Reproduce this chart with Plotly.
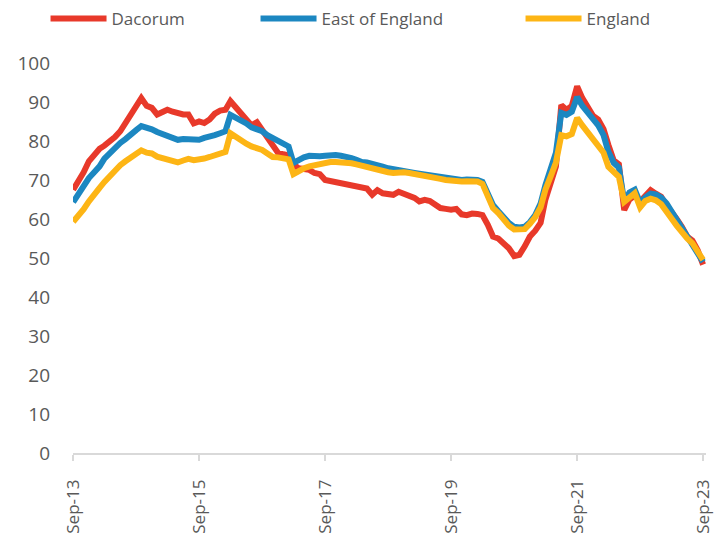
import plotly.graph_objects as go
import pandas as pd

months = pd.date_range("2013-09-01", "2023-09-01", freq="MS")

dacorum = [
    67.5, 69.5, 72.0, 74.8, 76.5, 78.0, 78.8, 79.8, 81.0, 82.5,
    84.5, 87.0, 88.5, 91.0, 89.0, 88.5, 86.8, 87.5, 88.0, 87.5,
    87.0, 86.8, 86.8, 84.5, 85.0, 84.6, 85.5, 87.0, 87.8, 88.0,
    90.2, 88.5, 87.0, 85.5, 84.0, 84.8, 82.8, 81.0, 78.5, 77.0,
    76.6, 76.3, 74.0, 73.0, 72.8, 72.6, 71.8, 71.5, 70.0, 69.7,
    69.5, 69.2, 69.0, 68.3, 68.2, 68.0, 67.8, 66.2, 67.4, 66.6,
    66.2, 66.2, 67.0, 66.6, 66.2, 65.4, 64.5, 64.9, 64.6, 63.8,
    62.8, 62.6, 62.4, 62.6, 61.2, 61.0, 61.4, 61.3, 61.0, 58.5,
    55.5, 55.0, 54.0, 52.5, 50.5, 50.8, 53.0, 55.5, 57.0, 59.0,
    65.0, 70.0, 73.5, 89.2, 88.0, 89.0, 94.0, 91.0, 88.5, 86.5,
    85.5, 83.0, 79.0, 75.0, 74.0, 62.3, 65.0, 66.0, 64.5, 66.0,
    67.4, 66.5, 65.7, 63.5, 61.5, 60.0, 58.0, 55.5, 54.5, 52.0,
    48.3,
]

east_of_england = [
    64.3, 66.5, 68.5, 70.5, 72.0, 73.5, 75.5, 77.0, 78.3, 79.5,
    80.5, 81.8, 82.8, 83.8, 83.5, 83.0, 82.3, 81.8, 81.0, 80.5,
    80.3, 80.5, 80.5, 80.2, 80.3, 80.8, 81.0, 81.5, 82.0, 82.5,
    86.7, 86.0, 85.3, 84.5, 83.5, 83.0, 82.5, 81.5, 80.8, 80.0,
    79.5, 78.6, 74.4, 75.3, 75.8, 76.2, 76.0, 76.1, 76.2, 76.4,
    76.4, 76.2, 76.0, 75.6, 75.2, 74.6, 74.5, 74.0, 73.8, 73.4,
    73.0, 72.8, 72.6, 72.6, 72.2, 71.8, 71.6, 71.4, 71.2, 70.8,
    70.6, 70.4, 70.2, 70.1, 70.0, 70.1, 70.2, 70.0, 69.5, 66.0,
    63.6, 62.0, 60.5, 59.0, 58.0, 57.8, 58.0, 59.2, 61.0, 64.0,
    68.7, 73.0, 77.0, 87.2, 86.7, 87.5, 91.3, 89.0, 87.2, 85.5,
    84.0, 81.5, 77.2, 74.4, 73.2, 64.5, 66.8, 67.5, 64.2, 65.5,
    66.5, 66.3, 65.5, 64.0, 62.0, 60.0, 57.5, 55.5, 53.5, 51.5,
    49.0,
]

england = [
    59.3, 60.8, 62.5, 64.5, 66.5, 68.0, 69.5, 71.0, 72.5, 73.8,
    74.8, 75.6, 76.5, 77.6, 77.0, 76.8, 76.0, 75.6, 75.2, 74.7,
    74.5, 75.0, 75.4, 75.1, 75.2, 75.5, 75.9, 76.3, 76.8, 77.2,
    82.0, 81.0, 80.3, 79.3, 78.6, 78.2, 77.7, 76.8, 75.9, 75.8,
    75.6, 75.3, 71.5, 72.5, 73.0, 73.5, 73.8, 74.0, 74.3, 74.6,
    74.6, 74.6, 74.4, 74.3, 74.0, 73.6, 73.4, 73.2, 72.6, 72.4,
    72.0, 71.8, 72.0, 72.0, 71.8, 71.6, 71.2, 71.0, 70.8, 70.5,
    70.3, 70.0, 69.8, 69.6, 69.6, 69.7, 69.8, 69.6, 69.0, 65.5,
    62.8, 61.5, 59.8, 58.3, 57.3, 57.2, 57.4, 58.8, 60.5, 63.0,
    67.5, 71.0, 74.5, 81.5, 81.2, 81.8, 85.9, 84.0, 82.3, 80.5,
    79.0, 77.0, 73.4, 72.0, 70.8, 64.4, 65.6, 66.6, 63.0, 64.6,
    65.2, 64.8, 63.8, 62.2, 60.2, 58.3, 56.4, 55.0, 53.8, 51.8,
    49.5,
]

series_names = ["Dacorum", "East of England", "England"]
series_values = [dacorum, east_of_england, england]
series_colors = ["#E8392A", "#1C87C1", "#FDB515"]
legend_widths = [139, 194, 70]

tick_dates = pd.date_range("2013-09-01", "2023-09-01", freq="24MS")
tick_labels = ["Sep-13", "Sep-15", "Sep-17", "Sep-19", "Sep-21", "Sep-23"]
y_ticks = list(range(0, 101, 10))

fig = go.Figure()
for name, vals, col, lw in zip(series_names, series_values, series_colors, legend_widths):
    fig.add_trace(go.Scatter(
        x=months, y=vals, name=name, mode="lines",
        line=dict(color=col, width=6),
        legendwidth=lw,
    ))

font_family = "Open Sans, Liberation Sans, sans-serif"
fig.update_layout(
    width=724, height=533,
    margin=dict(l=65, r=26, t=55, b=88, autoexpand=False),
    paper_bgcolor="white", plot_bgcolor="white",
    font=dict(family=font_family, color="#595959", size=18),
    showlegend=True,
    legend=dict(
        orientation="h", x=-0.0434, y=1.113, xanchor="left", yanchor="middle",
        xref="paper", yref="paper",
        font=dict(size=17, color="#595959", family=font_family),
        itemwidth=56, tracegroupgap=0,
        bgcolor="rgba(0,0,0,0)",
    ),
    xaxis=dict(
        type="date",
        range=["2013-08-31", "2023-09-18"],
        tickvals=tick_dates, ticktext=tick_labels,
        tickangle=-90,
        ticks="outside", ticklen=6, tickcolor="#D9D9D9", tickwidth=1.5,
        showline=True, linecolor="#D9D9D9", linewidth=1.5,
        showgrid=False, zeroline=False,
        tickfont=dict(size=17, color="#595959"),
        ticklabelstandoff=12,
        automargin=False,
    ),
    yaxis=dict(
        range=[0, 100], tickvals=y_ticks,
        showgrid=False, zeroline=False, showline=False,
        ticks="", tickfont=dict(size=19, color="#595959"),
        ticklabelstandoff=22,
        automargin=False,
    ),
)

fig.write_html("out.html")
